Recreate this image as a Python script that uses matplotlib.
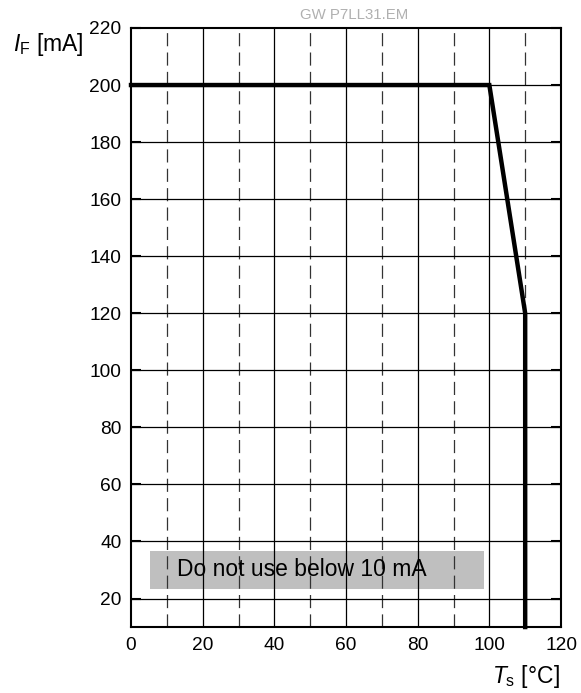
import matplotlib.pyplot as plt

plt.rcParams['font.family'] = ['Liberation Sans', 'DejaVu Sans']
plt.rcParams['mathtext.fontset'] = 'custom'
plt.rcParams['mathtext.rm'] = 'Liberation Sans'
plt.rcParams['mathtext.it'] = 'Liberation Sans:italic'

# derating curve
temp = [0, 100, 110, 110]
current = [200, 200, 120, 10]

xticks = [0, 20, 40, 60, 80, 100, 120]
yticks = [20, 40, 60, 80, 100, 120, 140, 160, 180, 200, 220]
dashed_x = [10, 30, 50, 70, 90, 110]
solid_x = [20, 40, 60, 80, 100]
solid_y = [20, 40, 60, 80, 100, 120, 140, 160, 180, 200]

fig = plt.figure(figsize=(5.81, 6.93), dpi=100)
ax = fig.add_axes([0.2255, 0.0952, 0.7401, 0.8644])
ax.set_xlim(0, 120)
ax.set_ylim(10, 220)

for x in solid_x:
    ax.axvline(x, color='black', lw=0.9, zorder=1)
for x in dashed_x:
    ax.axvline(x, color='#333333', lw=0.9, ls=(0, (10.5, 5)), zorder=1)
for y in solid_y:
    ax.axhline(y, color='black', lw=0.9, zorder=1)

# "do not use" box
ax.fill_between([5.3, 98.5], 23.5, 36.8, color='#bfbfbf', lw=0, zorder=0.5)
ax.text(12.8, 30.2, 'Do not use below 10 mA', fontsize=16.5, va='center', ha='left', zorder=3)

ax.plot(temp, current, color='black', lw=3.2, solid_joinstyle='miter', zorder=4, clip_on=False)

ax.set_xticks(xticks)
ax.set_yticks(yticks)
ax.tick_params(axis='both', labelsize=13.8, direction='in', length=0, pad=7)
ax.tick_params(axis='y', length=7, width=1.5, right=True)
for s in ax.spines.values():
    s.set_linewidth(1.5)

fig.text(13/581, 1 - 44/693, r'$I_{\mathrm{F}}$ [mA]', fontsize=16.5, va='center', ha='left')
fig.text(560/581, 1 - 677/693, r'$T_{\mathrm{s}}$ [°C]', fontsize=16.5, va='center', ha='right')
fig.text(354/581, 1 - 15/693, 'GW P7LL31.EM', fontsize=10.8, color='#b0b0b0', va='center', ha='center')

fig.savefig('out.png', dpi=100)
